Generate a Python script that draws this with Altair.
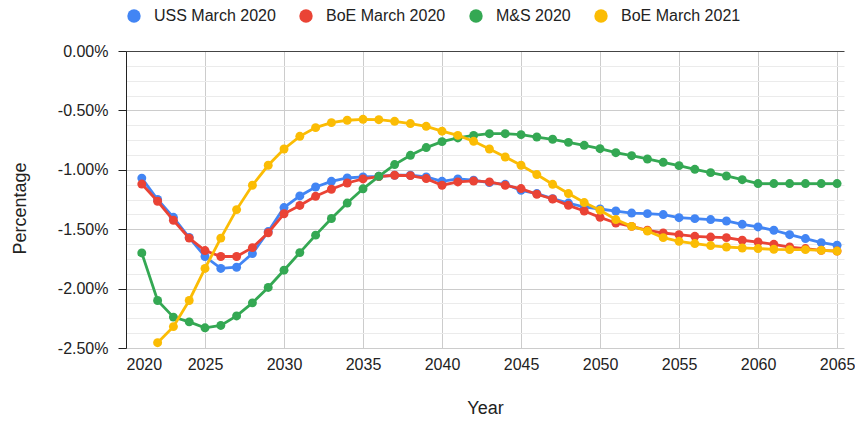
import altair as alt
import pandas as pd

series_names = ["USS March 2020", "BoE March 2020", "M&S 2020", "BoE March 2021"]
series_colors = ["#4285F4", "#EA4335", "#34A853", "#FBBC04"]

years_2021 = list(range(2021, 2066))
years_2022 = list(range(2022, 2066))

uss_2020 = [-1.07, -1.25, -1.40, -1.57, -1.73, -1.83, -1.82, -1.705, -1.52, -1.318,
            -1.22, -1.145, -1.097, -1.069, -1.06, -1.055, -1.046, -1.046, -1.06, -1.097,
            -1.077, -1.088, -1.108, -1.122, -1.173, -1.20, -1.243, -1.28, -1.313, -1.33,
            -1.347, -1.364, -1.369, -1.377, -1.403, -1.411, -1.419, -1.431, -1.459, -1.481,
            -1.509, -1.546, -1.579, -1.613, -1.635]
boe_2020 = [-1.12, -1.265, -1.425, -1.575, -1.68, -1.73, -1.73, -1.655, -1.53, -1.37,
            -1.30, -1.223, -1.164, -1.111, -1.077, -1.057, -1.046, -1.049, -1.074, -1.13,
            -1.102, -1.094, -1.102, -1.13, -1.158, -1.206, -1.246, -1.299, -1.347, -1.40,
            -1.448, -1.476, -1.509, -1.532, -1.546, -1.56, -1.566, -1.571, -1.593, -1.608,
            -1.627, -1.65, -1.663, -1.678, -1.684]
ms_2020 = [-1.70, -2.10, -2.24, -2.28, -2.33, -2.31, -2.23, -2.12, -1.99, -1.845,
           -1.697, -1.55, -1.41, -1.28, -1.16, -1.055, -0.956, -0.878, -0.813, -0.763,
           -0.732, -0.71, -0.696, -0.696, -0.704, -0.724, -0.743, -0.769, -0.794, -0.822,
           -0.856, -0.881, -0.909, -0.937, -0.965, -0.996, -1.024, -1.052, -1.083, -1.116,
           -1.116, -1.116, -1.116, -1.116, -1.116]
boe_2021 = [-2.455, -2.32, -2.10, -1.83, -1.575, -1.335, -1.13, -0.962, -0.825,
            -0.718, -0.645, -0.603, -0.583, -0.575, -0.578, -0.592, -0.611, -0.634, -0.675,
            -0.71, -0.76, -0.825, -0.892, -0.962, -1.04, -1.122, -1.20, -1.276, -1.34,
            -1.419, -1.476, -1.515, -1.571, -1.602, -1.621, -1.638, -1.65, -1.658, -1.663,
            -1.669, -1.672, -1.672, -1.678, -1.684]

x_ticks = list(range(2020, 2066, 5))
y_ticks = [-i * 0.125 for i in range(0, 21)]

rows = []
for name, yrs, vals in [
    (series_names[0], years_2021, uss_2020),
    (series_names[1], years_2021, boe_2020),
    (series_names[2], years_2021, ms_2020),
    (series_names[3], years_2022, boe_2021),
]:
    for yv, v in zip(yrs, vals):
        rows.append({"year": yv, "value": v, "series": name})
df = pd.DataFrame(rows)

major_test = "abs(datum.value*2 - round(datum.value*2)) < 0.001"

W = 718
H = 297

x_enc = alt.X(
    "year:Q",
    scale=alt.Scale(domain=[2020, 2065.44], nice=False, zero=False),
    axis=alt.Axis(
        values=x_ticks,
        labelExpr="toString(datum.value)",
        grid=True, gridColor="#cccccc", gridWidth=1,
        domain=False, ticks=False,
        labelPadding=8, labelFontSize=16, labelColor="#222222",
        title="Year", titleFontSize=18, titleFontWeight="normal", titleColor="#222222",
        titleX=W / 2, titleY=65, titleBaseline="alphabetic", titleAnchor="middle",
    ),
)
y_enc = alt.Y(
    "value:Q",
    scale=alt.Scale(domain=[-2.5, 0], nice=False, zero=False),
    axis=alt.Axis(
        values=y_ticks,
        labelExpr=major_test + " ? ((datum.value < -0.0001 ? '-' : '') + format(abs(datum.value), '.2f') + '%') : ''",
        grid=True,
        gridColor={"condition": [{"test": "abs(datum.value) < 0.001", "value": "#444444"},
                                 {"test": major_test, "value": "#cccccc"}],
                   "value": "#ebebeb"},
        gridWidth=1,
        domain=True, domainColor="#222222", domainWidth=1,
        ticks=True, tickSize=8, tickColor="#222222",
        tickOpacity={"condition": {"test": major_test, "value": 1}, "value": 0},
        labelPadding=10, labelFontSize=16, labelColor="#222222",
        title="Percentage", titleFontSize=18, titleFontWeight="normal", titleColor="#222222",
        titleX=-106, titleY=157, titleBaseline="middle", titleAlign="center", titleAngle=270,
    ),
)

base = alt.Chart(df)
layers = []
for name, color in zip(series_names, series_colors):
    sub = base.transform_filter(alt.datum.series == name)
    line = sub.mark_line(color=color, strokeWidth=2.8).encode(x=x_enc, y=y_enc)
    pts = sub.mark_point(filled=True, opacity=1, size=80).encode(
        x=x_enc, y=y_enc,
        color=alt.Color(
            "series:N",
            scale=alt.Scale(domain=series_names, range=series_colors),
            legend=alt.Legend(
                title=None, orient="none", direction="horizontal",
                legendX=0, legendY=-43,
                symbolType="circle", symbolSize=180, symbolStrokeWidth=0,
                labelFontSize=16, labelColor="#222222", labelOffset=12,
                columnPadding=22, padding=0, labelLimit=300,
            ),
        ),
    )
    layers += [line, pts]

chart = alt.layer(*layers).properties(
    width=W, height=H,
    autosize=alt.AutoSizeParams(type="none"),
    padding={"left": 118, "top": 43, "right": 11, "bottom": 70},
).configure(font="Liberation Sans").configure_view(stroke=None)

chart.save("out.html", embed_options={"renderer": "svg", "actions": False})
